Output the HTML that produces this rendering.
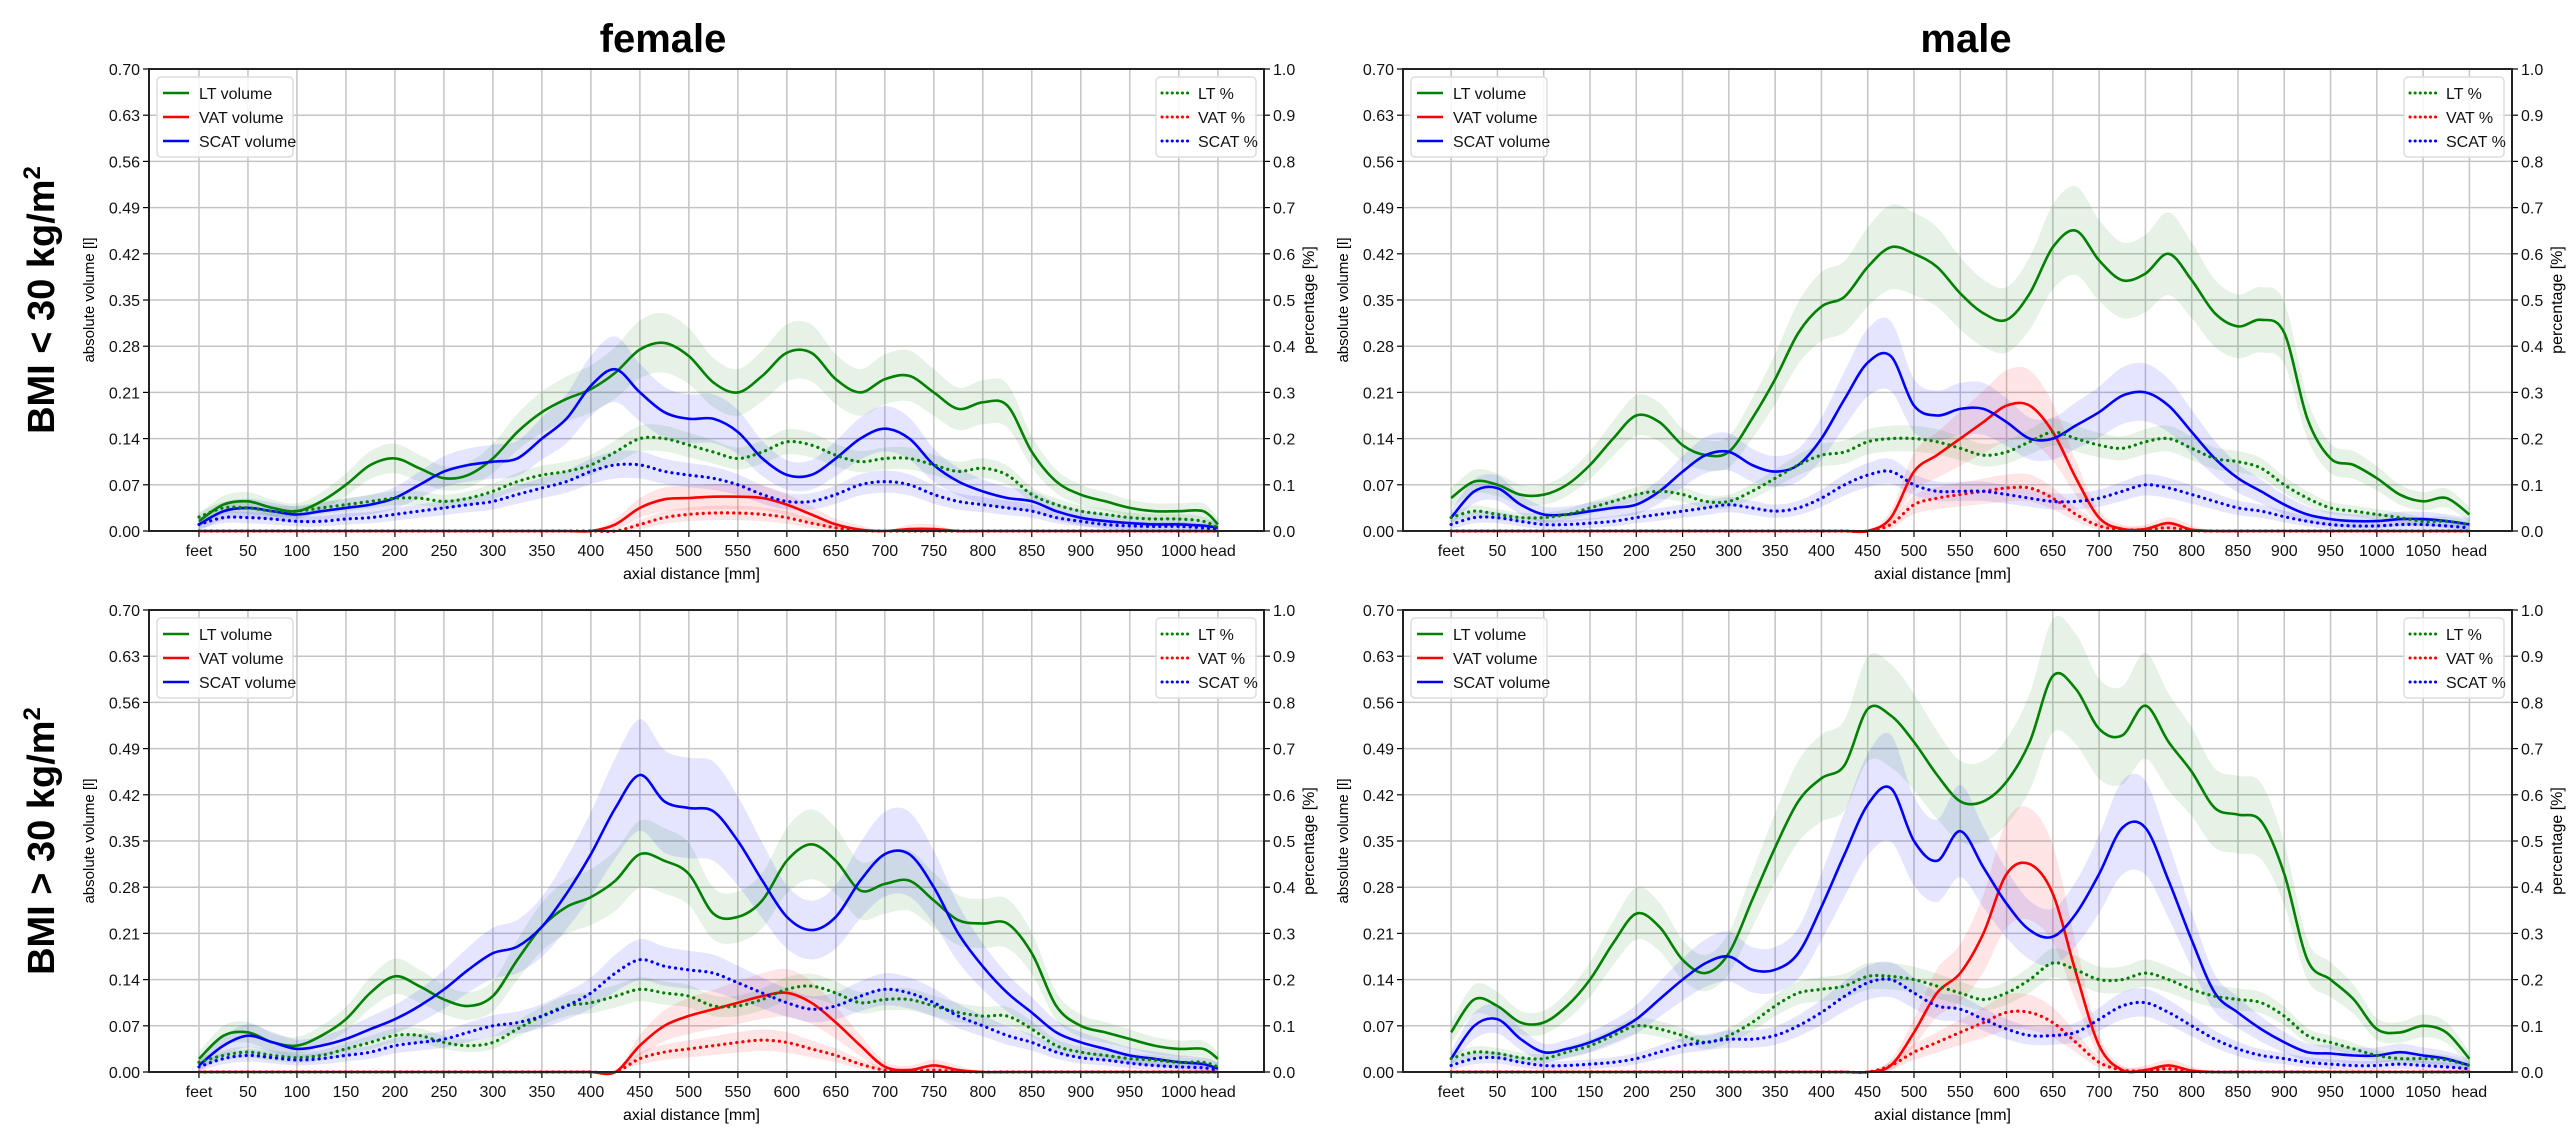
<!DOCTYPE html>
<html><head><meta charset="utf-8"><style>
html,body{margin:0;padding:0;background:#fff;}
svg{display:block;font-family:"Liberation Sans",sans-serif;}
</style></head><body>
<svg id="chart" width="2575" height="1139" viewBox="0 0 2575 1139" xmlns="http://www.w3.org/2000/svg">
<text x="663" y="52" font-size="40" font-weight="bold" text-anchor="middle">female</text>
<text x="1966" y="52" font-size="40" font-weight="bold" text-anchor="middle">male</text>
<text transform="translate(54,300) rotate(-90)" font-size="38" font-weight="bold" text-anchor="middle">BMI &lt; 30 kg/m<tspan dy="-14" font-size="24">2</tspan></text>
<text transform="translate(54,841) rotate(-90)" font-size="38" font-weight="bold" text-anchor="middle">BMI &gt; 30 kg/m<tspan dy="-14" font-size="24">2</tspan></text>
</svg>
<script>
// ---- data (volumes in litres, percentages as fractions) ----
const femaleTicks = [0,50,100,150,200,250,300,350,400,450,500,550,600,650,700,750,800,850,900,950,1000,1040];
const femaleTickLabels = ["feet","50","100","150","200","250","300","350","400","450","500","550","600","650","700","750","800","850","900","950","1000","head"];
const maleTicks = [0,50,100,150,200,250,300,350,400,450,500,550,600,650,700,750,800,850,900,950,1000,1050,1100];
const maleTickLabels = ["feet","50","100","150","200","250","300","350","400","450","500","550","600","650","700","750","800","850","900","950","1000","1050","head"];
const leftTickValues = [0,0.07,0.14,0.21,0.28,0.35,0.42,0.49,0.56,0.63,0.70];
const leftTickLabels = ["0.00","0.07","0.14","0.21","0.28","0.35","0.42","0.49","0.56","0.63","0.70"];
const rightTickValues = [0,0.1,0.2,0.3,0.4,0.5,0.6,0.7,0.8,0.9,1.0];
const rightTickLabels = ["0.0","0.1","0.2","0.3","0.4","0.5","0.6","0.7","0.8","0.9","1.0"];
const femalePositions = [0,25,50,75,100,125,150,175,200,225,250,275,300,325,350,375,400,425,450,475,500,525,550,575,600,625,650,675,700,725,750,775,800,825,850,875,900,925,950,975,1000,1025,1040];
const malePositions = [0,25,50,75,100,125,150,175,200,225,250,275,300,325,350,375,400,425,450,475,500,525,550,575,600,625,650,675,700,725,750,775,800,825,850,875,900,925,950,975,1000,1025,1050,1075,1100];

// female BMI<30
const ltVolF1 = [0.015,0.04,0.045,0.035,0.03,0.045,0.07,0.1,0.11,0.095,0.08,0.085,0.11,0.15,0.18,0.2,0.215,0.24,0.275,0.285,0.265,0.225,0.21,0.235,0.27,0.27,0.23,0.21,0.23,0.235,0.21,0.185,0.195,0.19,0.12,0.075,0.055,0.045,0.035,0.03,0.03,0.03,0.01];
const scatVolF1 = [0.01,0.03,0.035,0.03,0.025,0.03,0.035,0.04,0.05,0.07,0.09,0.1,0.105,0.11,0.14,0.17,0.22,0.245,0.21,0.18,0.17,0.17,0.15,0.11,0.085,0.085,0.11,0.14,0.155,0.14,0.1,0.075,0.06,0.05,0.045,0.03,0.02,0.015,0.012,0.01,0.01,0.008,0.005];
const vatVolF1 = [0,0,0,0,0,0,0,0,0,0,0,0,0,0,0,0,0,0.01,0.035,0.048,0.05,0.052,0.052,0.05,0.04,0.025,0.01,0.002,0,0.003,0.003,0,0,0,0,0,0,0,0,0,0,0,0];
const ltPctF1 = [0.03,0.05,0.05,0.043,0.043,0.05,0.057,0.064,0.071,0.071,0.064,0.071,0.086,0.107,0.121,0.129,0.143,0.171,0.2,0.2,0.186,0.171,0.157,0.171,0.193,0.186,0.164,0.15,0.157,0.157,0.143,0.129,0.136,0.121,0.079,0.057,0.043,0.036,0.029,0.026,0.026,0.021,0.007];
const scatPctF1 = [0.014,0.029,0.029,0.026,0.021,0.021,0.026,0.029,0.036,0.043,0.05,0.057,0.064,0.079,0.093,0.107,0.129,0.143,0.143,0.129,0.121,0.114,0.1,0.079,0.064,0.064,0.079,0.1,0.107,0.1,0.079,0.064,0.057,0.05,0.043,0.029,0.021,0.014,0.011,0.01,0.01,0.007,0.004];
const vatPctF1 = [0,0,0,0,0,0,0,0,0,0,0,0,0,0,0,0,0,0,0.014,0.029,0.036,0.039,0.039,0.036,0.029,0.017,0.007,0.001,0,0,0,0,0,0,0,0,0,0,0,0,0,0,0];

// male BMI<30
const ltVolM1 = [0.05,0.075,0.07,0.055,0.055,0.07,0.1,0.14,0.175,0.165,0.13,0.115,0.12,0.17,0.23,0.3,0.34,0.355,0.4,0.43,0.42,0.4,0.36,0.33,0.32,0.36,0.43,0.455,0.41,0.38,0.39,0.42,0.38,0.33,0.31,0.32,0.3,0.17,0.11,0.1,0.08,0.055,0.045,0.05,0.025];
const scatVolM1 = [0.02,0.06,0.065,0.04,0.025,0.025,0.03,0.035,0.04,0.06,0.09,0.115,0.12,0.1,0.09,0.1,0.14,0.2,0.255,0.265,0.19,0.175,0.185,0.185,0.165,0.14,0.14,0.16,0.18,0.205,0.21,0.19,0.15,0.11,0.08,0.06,0.04,0.025,0.018,0.015,0.015,0.018,0.018,0.015,0.01];
const vatVolM1 = [0,0,0,0,0,0,0,0,0,0,0,0,0,0,0,0,0,0,0,0.02,0.09,0.115,0.14,0.165,0.19,0.19,0.15,0.08,0.02,0.003,0.003,0.012,0.002,0,0,0,0,0,0,0,0,0,0,0,0];
const ltPctM1 = [0.029,0.043,0.036,0.029,0.029,0.036,0.05,0.064,0.079,0.086,0.079,0.064,0.064,0.086,0.114,0.143,0.164,0.171,0.193,0.2,0.2,0.193,0.179,0.164,0.171,0.193,0.214,0.2,0.186,0.179,0.193,0.2,0.179,0.157,0.15,0.136,0.1,0.071,0.05,0.043,0.036,0.029,0.021,0.021,0.014];
const scatPctM1 = [0.014,0.029,0.029,0.021,0.014,0.014,0.017,0.021,0.029,0.036,0.043,0.05,0.057,0.05,0.043,0.05,0.071,0.1,0.121,0.129,0.1,0.086,0.086,0.086,0.079,0.071,0.064,0.064,0.071,0.086,0.1,0.093,0.079,0.064,0.05,0.043,0.031,0.021,0.014,0.011,0.011,0.014,0.014,0.011,0.007];
const vatPctM1 = [0,0,0,0,0,0,0,0,0,0,0,0,0,0,0,0,0,0,0,0.014,0.057,0.071,0.079,0.086,0.093,0.093,0.071,0.036,0.011,0.003,0.003,0.007,0.001,0,0,0,0,0,0,0,0,0,0,0,0];

// female BMI>30
const ltVolF2 = [0.02,0.055,0.06,0.045,0.04,0.055,0.08,0.12,0.145,0.13,0.11,0.1,0.115,0.17,0.22,0.25,0.265,0.29,0.33,0.32,0.3,0.24,0.235,0.26,0.32,0.345,0.32,0.275,0.285,0.29,0.26,0.23,0.225,0.225,0.18,0.1,0.07,0.06,0.05,0.04,0.035,0.035,0.02];
const scatVolF2 = [0.01,0.04,0.055,0.045,0.035,0.04,0.05,0.065,0.08,0.1,0.125,0.155,0.18,0.19,0.22,0.27,0.33,0.4,0.45,0.41,0.4,0.395,0.35,0.29,0.235,0.215,0.235,0.29,0.33,0.33,0.28,0.21,0.16,0.12,0.09,0.06,0.045,0.035,0.025,0.02,0.015,0.012,0.005];
const vatVolF2 = [0,0,0,0,0,0,0,0,0,0,0,0,0,0,0,0,0,0,0.04,0.07,0.085,0.095,0.105,0.115,0.12,0.105,0.075,0.04,0.008,0.003,0.01,0.003,0,0,0,0,0,0,0,0,0,0,0];
const ltPctF2 = [0.021,0.036,0.043,0.036,0.031,0.036,0.05,0.064,0.079,0.079,0.064,0.057,0.064,0.093,0.121,0.143,0.15,0.164,0.179,0.171,0.164,0.143,0.143,0.157,0.179,0.186,0.171,0.15,0.157,0.157,0.143,0.129,0.121,0.121,0.093,0.057,0.043,0.036,0.029,0.026,0.021,0.021,0.011];
const scatPctF2 = [0.011,0.029,0.036,0.031,0.026,0.029,0.036,0.043,0.057,0.064,0.071,0.086,0.1,0.107,0.121,0.143,0.171,0.214,0.243,0.229,0.221,0.214,0.193,0.171,0.15,0.136,0.143,0.164,0.179,0.171,0.15,0.121,0.1,0.079,0.064,0.043,0.031,0.026,0.019,0.014,0.011,0.009,0.004];
const vatPctF2 = [0,0,0,0,0,0,0,0,0,0,0,0,0,0,0,0,0,0,0.029,0.043,0.05,0.057,0.064,0.069,0.064,0.05,0.036,0.017,0.004,0.001,0.004,0.001,0,0,0,0,0,0,0,0,0,0,0];

// male BMI>30
const ltVolM2 = [0.06,0.11,0.1,0.075,0.075,0.1,0.14,0.195,0.24,0.22,0.17,0.15,0.18,0.26,0.34,0.41,0.445,0.465,0.55,0.54,0.5,0.45,0.41,0.41,0.44,0.5,0.6,0.58,0.52,0.51,0.555,0.5,0.455,0.4,0.39,0.38,0.3,0.17,0.14,0.11,0.065,0.06,0.07,0.06,0.02];
const scatVolM2 = [0.02,0.07,0.08,0.05,0.03,0.035,0.045,0.06,0.08,0.11,0.14,0.165,0.175,0.155,0.155,0.18,0.25,0.33,0.405,0.43,0.35,0.32,0.365,0.31,0.255,0.215,0.205,0.24,0.3,0.37,0.37,0.29,0.2,0.12,0.09,0.065,0.045,0.03,0.028,0.025,0.025,0.03,0.025,0.02,0.01];
const vatVolM2 = [0,0,0,0,0,0,0,0,0,0,0,0,0,0,0,0,0,0,0,0.01,0.06,0.12,0.15,0.21,0.3,0.315,0.27,0.15,0.04,0.003,0.003,0.01,0.002,0,0,0,0,0,0,0,0,0,0,0,0];
const ltPctM2 = [0.029,0.043,0.04,0.031,0.029,0.043,0.057,0.079,0.1,0.093,0.079,0.064,0.079,0.107,0.143,0.171,0.179,0.186,0.207,0.207,0.2,0.186,0.171,0.157,0.171,0.2,0.236,0.221,0.2,0.2,0.214,0.2,0.179,0.164,0.157,0.15,0.121,0.079,0.064,0.05,0.036,0.029,0.029,0.026,0.014];
const scatPctM2 = [0.014,0.029,0.031,0.021,0.014,0.014,0.017,0.021,0.029,0.043,0.057,0.064,0.071,0.071,0.079,0.1,0.129,0.164,0.193,0.2,0.171,0.143,0.136,0.114,0.093,0.079,0.079,0.086,0.114,0.143,0.15,0.129,0.1,0.071,0.05,0.036,0.029,0.021,0.017,0.014,0.014,0.017,0.014,0.011,0.007];
const vatPctM2 = [0,0,0,0,0,0,0,0,0,0,0,0,0,0,0,0,0,0,0,0.014,0.043,0.064,0.086,0.107,0.129,0.129,0.107,0.064,0.021,0.004,0.003,0.007,0.001,0,0,0,0,0,0,0,0,0,0,0,0];

// ---- rendering ----
const NS = "http://www.w3.org/2000/svg";
const svg = document.getElementById("chart");
function mk(tag, attrs, parent) {
  const e = document.createElementNS(NS, tag);
  for (const k in attrs) e.setAttribute(k, attrs[k]);
  (parent || svg).appendChild(e);
  return e;
}
const GREEN = "#008000", RED = "#ff0000", BLUE = "#0000ff";

// Catmull-Rom to cubic Bezier path segments
function smooth(pts, start) {
  let d = start ? "M" + pts[0][0].toFixed(1) + "," + pts[0][1].toFixed(1) : "L" + pts[0][0].toFixed(1) + "," + pts[0][1].toFixed(1);
  for (let i = 0; i < pts.length - 1; i++) {
    const p0 = pts[Math.max(0, i - 1)], p1 = pts[i], p2 = pts[i + 1], p3 = pts[Math.min(pts.length - 1, i + 2)];
    const c1x = p1[0] + (p2[0] - p0[0]) / 6, c1y = p1[1] + (p2[1] - p0[1]) / 6;
    const c2x = p2[0] - (p3[0] - p1[0]) / 6, c2y = p2[1] - (p3[1] - p1[1]) / 6;
    d += " C" + c1x.toFixed(1) + "," + c1y.toFixed(1) + " " + c2x.toFixed(1) + "," + c2y.toFixed(1) + " " + p2[0].toFixed(1) + "," + p2[1].toFixed(1);
  }
  return d;
}

function drawPanel(p) {
  const g = mk("g", {});
  
  
  const xs = v => p.x0 + (v - p.xmin) / (p.xmax - p.xmin) * (p.x1 - p.x0);
  const yL = v => p.y1 - v / 0.7 * (p.y1 - p.y0);
  const yR = v => p.y1 - v / 1.0 * (p.y1 - p.y0);

  p.ticks.forEach((t, i) => {
    const l = mk("line", {x1: xs(t), x2: xs(t), y1: p.y0, y2: p.y1, stroke: "#c4c4c4", "stroke-width": 1.5}, g);
    
    
    mk("line", {x1: xs(t), x2: xs(t), y1: p.y1, y2: p.y1 + 6, stroke: "#000", "stroke-width": 1.2}, g);
    const tx = mk("text", {x: xs(t), y: p.y1 + 25, "font-size": 16, "text-anchor": "middle", fill: "#111"}, g);
    tx.textContent = p.tickLabels[i];
    
    
  });
  leftTickValues.forEach((v, i) => {
    const l = mk("line", {x1: p.x0, x2: p.x1, y1: yL(v), y2: yL(v), stroke: "#c4c4c4", "stroke-width": 1.5}, g);
    
    
    mk("line", {x1: p.x0 - 6, x2: p.x0, y1: yL(v), y2: yL(v), stroke: "#000", "stroke-width": 1.2}, g);
    const tx = mk("text", {x: p.x0 - 9, y: yL(v) + 6, "font-size": 16, "text-anchor": "end", fill: "#111"}, g);
    tx.textContent = leftTickLabels[i];
    
    
  });
  rightTickValues.forEach((v, i) => {
    mk("line", {x1: p.x1, x2: p.x1 + 6, y1: yR(v), y2: yR(v), stroke: "#000", "stroke-width": 1.2}, g);
    const tx = mk("text", {x: p.x1 + 9, y: yR(v) + 6, "font-size": 16, "text-anchor": "start", fill: "#111"}, g);
    tx.textContent = rightTickLabels[i];
    
    
  });

  p.series.forEach(s => {
    const yf = s.pct ? yR : yL;
    const up = s.vals.map((v, i) => [xs(p.pos[i]), yf(v + (v > 0 ? v * s.spread + s.base : 0))]);
    const dn = s.vals.map((v, i) => [xs(p.pos[i]), yf(Math.max(0, v - v * s.spread - (v > 0 ? s.base : 0)))]);
    const d = smooth(up, true) + " " + smooth(dn.reverse(), false) + " Z";
    const b = mk("path", {d: d, fill: s.color, "fill-opacity": 0.1, stroke: "none"}, g);
    
    
  });
  p.series.forEach(s => {
    const yf = s.pct ? yR : yL;
    const pts = s.vals.map((v, i) => [xs(p.pos[i]), yf(v)]);
    const attrs = {d: smooth(pts, true), fill: "none", stroke: s.color, "stroke-width": 2.6, "stroke-linejoin": "round"};
    if (s.pct) { attrs["stroke-dasharray"] = "0.1 6"; attrs["stroke-linecap"] = "round"; attrs["stroke-width"] = 3.2; }
    const l = mk("path", attrs, g);
    
    
  });

  const fr = mk("rect", {x: p.x0, y: p.y0, width: p.x1 - p.x0, height: p.y1 - p.y0, fill: "none", stroke: "#222", "stroke-width": 2}, g);
  
  

  const xl = mk("text", {x: (p.x0 + p.x1) / 2 - 15, y: p.y1 + 48, "font-size": 16, "text-anchor": "middle"}, g);
  xl.textContent = "axial distance [mm]";
  
  
  const yl = mk("text", {transform: `translate(${p.x0 - 55},${(p.y0 + p.y1) / 2}) rotate(-90)`, "font-size": 15, "text-anchor": "middle"}, g);
  yl.textContent = "absolute volume [l]";
  
  
  const yr = mk("text", {transform: `translate(${p.x1 + 50},${(p.y0 + p.y1) / 2}) rotate(-90)`, "font-size": 16, "text-anchor": "middle"}, g);
  yr.textContent = "percentage [%]";
  
  

  function legend(x, w, entries, dotted, nm) {
    const lg = mk("g", {}, g);
    
    
    mk("rect", {x: x, y: p.y0 + 8, width: w, height: 80, rx: 4, fill: "#fff", "fill-opacity": 0.85, stroke: "#ddd", "stroke-width": 1.5}, lg);
    entries.forEach((en, i) => {
      const yy = p.y0 + 24 + i * 24;
      const la = {x1: x + 6, x2: x + 32, y1: yy, y2: yy, stroke: en[1], "stroke-width": dotted ? 3 : 2.6};
      if (dotted) { la["stroke-dasharray"] = "0.1 5"; la["stroke-linecap"] = "round"; }
      mk("line", la, lg);
      const t = mk("text", {x: x + 42, y: yy + 6, "font-size": 16, fill: "#111"}, lg);
      t.textContent = en[0];
      
      
    });
  }
  legend(p.x0 + 8, 136, [["LT volume", GREEN], ["VAT volume", RED], ["SCAT volume", BLUE]], false, 'volume-legend');
  legend(p.x1 - 108, 100, [["LT %", GREEN], ["VAT %", RED], ["SCAT %", BLUE]], true, 'percentage-legend');
}

function seriesSet(lt, vat, scat, ltp, vatp, scatp) {
  return [
    {key: "lt-volume", vals: lt, color: GREEN, pct: false, spread: 0.13, base: 0.008},
    {key: "vat-volume", vals: vat, color: RED, pct: false, spread: 0.25, base: 0.006},
    {key: "scat-volume", vals: scat, color: BLUE, pct: false, spread: 0.17, base: 0.008},
    {key: "lt-percent", vals: ltp, color: GREEN, pct: true, spread: 0.1, base: 0.008},
    {key: "vat-percent", vals: vatp, color: RED, pct: true, spread: 0.25, base: 0.006},
    {key: "scat-percent", vals: scatp, color: BLUE, pct: true, spread: 0.15, base: 0.008}
  ];
}

drawPanel({name: "female-bmi-under-30-panel", x0: 149, x1: 1264, y0: 69, y1: 531, xmin: -51, xmax: 1087,
  ticks: femaleTicks, tickLabels: femaleTickLabels, pos: femalePositions,
  series: seriesSet(ltVolF1, vatVolF1, scatVolF1, ltPctF1, vatPctF1, scatPctF1)});
drawPanel({name: "male-bmi-under-30-panel", x0: 1403, x1: 2512, y0: 69, y1: 531, xmin: -52, xmax: 1146,
  ticks: maleTicks, tickLabels: maleTickLabels, pos: malePositions,
  series: seriesSet(ltVolM1, vatVolM1, scatVolM1, ltPctM1, vatPctM1, scatPctM1)});
drawPanel({name: "female-bmi-over-30-panel", x0: 149, x1: 1264, y0: 610, y1: 1072, xmin: -51, xmax: 1087,
  ticks: femaleTicks, tickLabels: femaleTickLabels, pos: femalePositions,
  series: seriesSet(ltVolF2, vatVolF2, scatVolF2, ltPctF2, vatPctF2, scatPctF2)});
drawPanel({name: "male-bmi-over-30-panel", x0: 1403, x1: 2512, y0: 610, y1: 1072, xmin: -52, xmax: 1146,
  ticks: maleTicks, tickLabels: maleTickLabels, pos: malePositions,
  series: seriesSet(ltVolM2, vatVolM2, scatVolM2, ltPctM2, vatPctM2, scatPctM2)});
</script>
</body></html>
